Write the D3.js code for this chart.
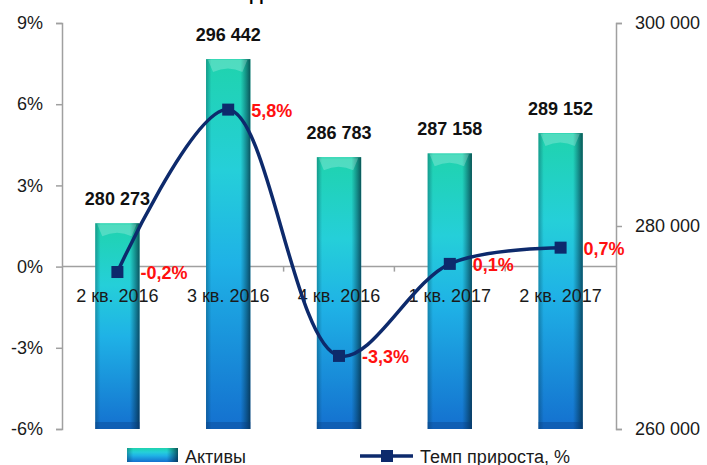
<!DOCTYPE html>
<html>
<head>
<meta charset="utf-8">
<script src="https://cdn.jsdelivr.net/npm/d3@7"></script>
<style>
  body { margin: 0; background: #fff; }
  svg { display: block; font-family: "Liberation Sans", Arial, sans-serif; }
</style>
</head>
<body>
<div id="chart"></div>
<script>
const quarters = ["2 кв. 2016", "3 кв. 2016", "4 кв. 2016", "1 кв. 2017", "2 кв. 2017"];
const assets = [280273, 296442, 286783, 287158, 289152];
const growth = [-0.2, 5.8, -3.3, 0.1, 0.7];
const leftTicks = [-6, -3, 0, 3, 6, 9];
const rightTicks = [260000, 280000, 300000];

const width = 707, height = 465;
const margin = { top: 23, right: 91, bottom: 36, left: 62 };
const innerBottom = height - margin.bottom;

const data = quarters.map((q, i) => ({ q: q, asset: assets[i], growth: growth[i] }));

const svg = d3.select("#chart").append("svg")
  .attr("width", width)
  .attr("height", height);

const defs = svg.append("defs");
const grad = defs.append("linearGradient")
  .attr("id", "barFill").attr("x1", 0).attr("y1", 0).attr("x2", 0).attr("y2", 1);
grad.append("stop").attr("offset", 0).attr("stop-color", "#1fd3ad");
grad.append("stop").attr("offset", 0.3).attr("stop-color", "#25cfd9");
grad.append("stop").attr("offset", 0.55).attr("stop-color", "#1fb2e6");
grad.append("stop").attr("offset", 1).attr("stop-color", "#1470cf");

const edge = defs.append("linearGradient")
  .attr("id", "barEdge").attr("x1", 0).attr("y1", 0).attr("x2", 1).attr("y2", 0);
edge.append("stop").attr("offset", 0).attr("stop-color", "#003040").attr("stop-opacity", 0.35);
edge.append("stop").attr("offset", 0.12).attr("stop-color", "#003040").attr("stop-opacity", 0);
edge.append("stop").attr("offset", 0.78).attr("stop-color", "#003040").attr("stop-opacity", 0);
edge.append("stop").attr("offset", 1).attr("stop-color", "#002030").attr("stop-opacity", 0.7);

// scales
const x = d3.scaleBand()
  .domain(quarters)
  .range([margin.left, width - margin.right])
  .paddingInner(0.6)
  .paddingOuter(0.3);

const yLeft = d3.scaleLinear().domain([-6, 9]).range([innerBottom, margin.top]);
const yRight = d3.scaleLinear().domain([260000, 300000]).range([innerBottom, margin.top]);

const fmtPct = d => d + "%";
const fmtNum = d => d3.format(",")(d).replace(/,/g, " ");
const fmtGrowth = d => d.toFixed(1).replace(".", ",") + "%";

// title (cut off at the top in the source)
svg.append("text")
  .attr("x", 250).attr("y", -0.5)
  .attr("font-weight", "bold").attr("font-size", 18)
  .text("Динамика активов");

// axes
const axisColor = "#a0a0a0";
const gLeft = svg.append("g")
  .attr("transform", `translate(${margin.left},0)`)
  .call(d3.axisLeft(yLeft).tickValues(leftTicks).tickFormat(fmtPct).tickSize(6).tickPadding(13));
const gRight = svg.append("g")
  .attr("transform", `translate(${width - margin.right},0)`)
  .call(d3.axisRight(yRight).tickValues(rightTicks).tickFormat(fmtNum).tickSize(6).tickPadding(13));
[gLeft, gRight].forEach(g => {
  g.select(".domain").attr("stroke", axisColor).attr("stroke-width", 1.5);
  g.selectAll(".tick line").attr("stroke", axisColor).attr("stroke-width", 1.5);
  g.selectAll(".tick text")
    .attr("font-size", 18)
    .attr("font-family", "Liberation Sans, Arial, sans-serif")
    .attr("fill", "#1a1a1a");
});

// category axis along 0%
const zeroY = yLeft(0);
svg.append("line")
  .attr("x1", margin.left).attr("x2", width - margin.right)
  .attr("y1", zeroY).attr("y2", zeroY)
  .attr("stroke", axisColor).attr("stroke-width", 1.5);
svg.append("g").selectAll("line")
  .data(quarters.slice(1))
  .join("line")
  .attr("x1", d => x(d) - x.step() * x.paddingInner() / 2)
  .attr("x2", d => x(d) - x.step() * x.paddingInner() / 2)
  .attr("y1", zeroY).attr("y2", zeroY + 5)
  .attr("stroke", axisColor).attr("stroke-width", 1.5);

// bars
const bars = svg.append("g").selectAll("g")
  .data(data)
  .join("g");

bars.append("rect")
  .attr("x", d => x(d.q))
  .attr("y", d => yRight(d.asset))
  .attr("width", x.bandwidth())
  .attr("height", d => innerBottom - yRight(d.asset))
  .attr("fill", "url(#barFill)");
bars.append("rect")
  .attr("x", d => x(d.q))
  .attr("y", d => yRight(d.asset))
  .attr("width", x.bandwidth())
  .attr("height", d => innerBottom - yRight(d.asset))
  .attr("fill", "url(#barEdge)");
// top bevel highlight
bars.append("path")
  .attr("d", d => {
    const x0 = x(d.q), x1 = x0 + x.bandwidth(), t = yRight(d.asset);
    return `M${x0 + 2},${t + 1}L${x1 - 3},${t + 1}L${x1 - 8},${t + 13}Q${(x0 + x1) / 2},${t + 6} ${x0 + 7},${t + 13}Z`;
  })
  .attr("fill", "#ffffff").attr("opacity", 0.22);
// bottom dark strip
bars.append("rect")
  .attr("x", d => x(d.q))
  .attr("y", innerBottom - 7)
  .attr("width", x.bandwidth())
  .attr("height", 7)
  .attr("fill", "#0a3d80").attr("opacity", 0.35);

// value labels above bars
svg.append("g").selectAll("text")
  .data(data)
  .join("text")
  .attr("x", d => x(d.q) + x.bandwidth() / 2)
  .attr("y", d => yRight(d.asset) - 18)
  .attr("text-anchor", "middle")
  .attr("font-weight", "bold").attr("font-size", 18)
  .attr("fill", "#111")
  .text(d => fmtNum(d.asset));

// category labels
svg.append("g").selectAll("text")
  .data(quarters)
  .join("text")
  .attr("x", d => x(d) + x.bandwidth() / 2)
  .attr("y", zeroY + 35)
  .attr("text-anchor", "middle")
  .attr("font-size", 18)
  .attr("fill", "#1a1a1a")
  .text(d => d);

// growth labels
svg.append("g").selectAll("text")
  .data(data)
  .join("text")
  .attr("x", d => x(d.q) + x.bandwidth() / 2 + 23)
  .attr("y", d => yLeft(d.growth) + 7)
  .attr("font-weight", "bold").attr("font-size", 18)
  .attr("fill", "#ff1010")
  .text(d => fmtGrowth(d.growth));

// growth line
const lineColor = "#0d2a6c";
const line = d3.line()
  .x(d => x(d.q) + x.bandwidth() / 2)
  .y(d => yLeft(d.growth))
  .curve(d3.curveCatmullRom.alpha(0.5));
svg.append("path")
  .datum(data)
  .attr("d", line)
  .attr("fill", "none")
  .attr("stroke", lineColor)
  .attr("stroke-width", 3.5);
svg.append("g").selectAll("rect")
  .data(data)
  .join("rect")
  .attr("x", d => x(d.q) + x.bandwidth() / 2 - 6)
  .attr("y", d => yLeft(d.growth) - 6)
  .attr("width", 12).attr("height", 12)
  .attr("fill", lineColor);

// legend
const legend = svg.append("g");
legend.append("rect")
  .attr("x", 127).attr("y", 448).attr("width", 51).attr("height", 14)
  .attr("fill", "url(#barFill)");
legend.append("rect")
  .attr("x", 127).attr("y", 448).attr("width", 51).attr("height", 14)
  .attr("fill", "url(#barEdge)");
legend.append("text")
  .attr("x", 185).attr("y", 463)
  .attr("font-size", 18).attr("fill", "#1a1a1a")
  .text("Активы");
legend.append("line")
  .attr("x1", 360).attr("x2", 413).attr("y1", 456).attr("y2", 456)
  .attr("stroke", lineColor).attr("stroke-width", 3.5);
legend.append("rect")
  .attr("x", 381).attr("y", 450).attr("width", 12).attr("height", 12)
  .attr("fill", lineColor);
legend.append("text")
  .attr("x", 420).attr("y", 463)
  .attr("font-size", 18).attr("fill", "#1a1a1a")
  .text("Темп прироста, %");
</script>
</body>
</html>
